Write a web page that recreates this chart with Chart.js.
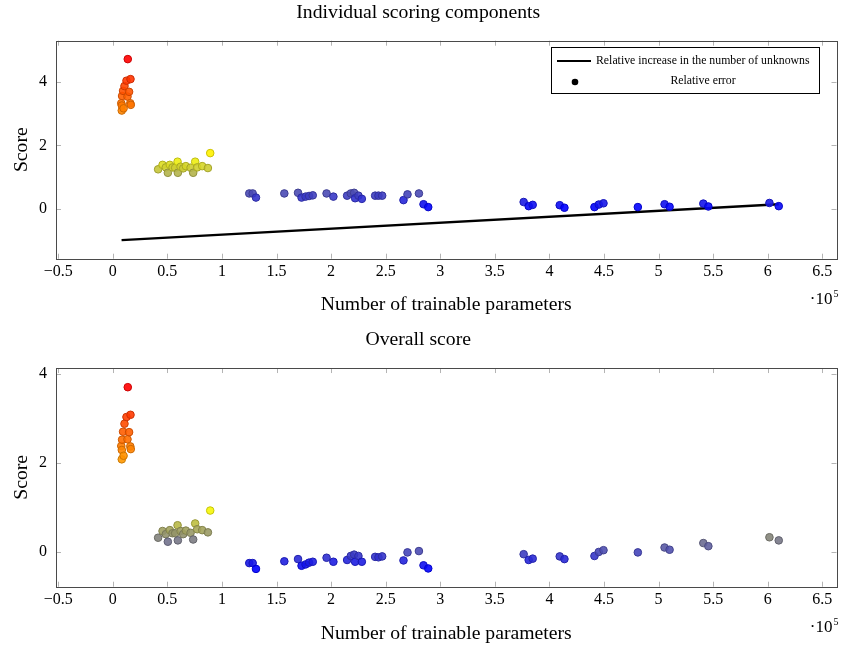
<!DOCTYPE html>
<html>
<head>
<meta charset="utf-8">
<script src="https://cdn.jsdelivr.net/npm/chart.js@4.4.0/dist/chart.umd.min.js"></script>
<style>
  body { margin: 0; background: #fff; }
  .box { position: absolute; left: 0; width: 844px; height: 324px; }
</style>
</head>
<body>
<div class="box" style="top:0"><canvas id="errorChart" width="844" height="324"></canvas></div>
<div class="box" style="top:324px"><canvas id="scoreChart" width="844" height="324"></canvas></div>
<script>
// number of trainable parameters of each network
const params = [7800, 8260, 8300, 8530, 9450, 9910, 10730, 12570, 13490, 13760, 14950, 16060, 16240, 16510,
  41560, 45600, 48620, 50460, 52290, 54770, 57160, 59360, 59630, 62110, 64500, 66970, 71280, 73670, 75500, 77340, 81930, 87160, 89270,
  125050, 128170, 131190, 157160, 169720, 172940, 176610, 179820, 183210, 195870, 202110, 214680, 218070, 221100, 222020, 225050, 228170,
  240370, 243390, 246790, 266330, 270000, 280460, 284680, 288990, 376420, 381010, 384680, 409450, 413760, 441280, 445230, 449540,
  481010, 505500, 510090, 541010, 545600, 601560, 610090];

// relative error (upper plot)
const relError = [3.33, 3.10, 3.26, 3.56, 3.72, 3.17, 3.87, 4.04, 3.54, 4.72, 3.69, 3.33, 4.09, 3.28,
  1.25, 1.39, 1.31, 1.14, 1.39, 1.31, 1.30, 1.49, 1.14, 1.33, 1.28, 1.35, 1.30, 1.14, 1.49, 1.31, 1.35, 1.29, 1.76,
  0.49, 0.49, 0.36, 0.49, 0.51, 0.36, 0.39, 0.41, 0.43, 0.49, 0.39, 0.42, 0.49, 0.51, 0.34, 0.42, 0.32,
  0.42, 0.42, 0.42, 0.28, 0.46, 0.49, 0.15, 0.06, 0.22, 0.09, 0.13, 0.12, 0.04, 0.06, 0.14, 0.18,
  0.06, 0.15, 0.07, 0.17, 0.08, 0.19, 0.09];

// overall score (lower plot)
const overallScore = [2.38, 2.08, 2.29, 2.52, 2.70, 2.16, 2.88, 3.03, 2.53, 3.70, 2.69, 2.37, 3.08, 2.31,
  0.32, 0.47, 0.40, 0.23, 0.49, 0.42, 0.42, 0.60, 0.26, 0.47, 0.40, 0.48, 0.43, 0.28, 0.64, 0.51, 0.49, 0.44, 0.93,
  -0.25, -0.25, -0.38, -0.21, -0.16, -0.31, -0.28, -0.24, -0.22, -0.13, -0.22, -0.18, -0.09, -0.06, -0.22, -0.09, -0.22,
  -0.11, -0.12, -0.10, -0.19, -0.01, 0.02, -0.30, -0.37, -0.05, -0.18, -0.15, -0.10, -0.16, -0.09, 0.00, 0.04,
  -0.01, 0.10, 0.05, 0.20, 0.13, 0.33, 0.26];

// relative increase in the number of unknowns (black line)
const unknownsX = [8070, 610090];
const unknownsY = [-0.98, 0.15];

const xTickValues = [-50000, 0, 50000, 100000, 150000, 200000, 250000, 300000, 350000, 400000, 450000, 500000, 550000, 600000, 650000];
const yTickValues = [0, 2, 4];

const SERIF = '"Liberation Serif", "DejaVu Serif", serif';

// blue -> yellow -> orange -> red, like the pgfplots colormap
const cmap = [[0, 0, 255], [255, 255, 0], [255, 128, 0], [255, 0, 0]];
function mapped(t, shade, alpha) {
  const s = Math.max(0, Math.min(1, t)) * 3;
  const i = Math.min(2, Math.floor(s)), f = s - i;
  const c = cmap[i].map((v, k) => Math.round((v + (cmap[i + 1][k] - v) * f) * shade));
  return 'rgba(' + c[0] + ',' + c[1] + ',' + c[2] + ',' + alpha + ')';
}

function fmtTick(v) {
  return String(Math.round(v * 10) / 10).replace('-', '\u2212');
}

// frame, inward tick marks and the ·10^5 factor
const framePlugin = {
  id: 'frame',
  afterDraw(chart) {
    const ctx = chart.ctx, a = chart.chartArea;
    const xs = chart.scales.x, ys = chart.scales.y;
    ctx.save();
    ctx.strokeStyle = '#b4b4b4';
    ctx.lineWidth = 1;
    ctx.beginPath();
    xs.ticks.forEach(t => {
      const px = Math.round(xs.getPixelForValue(t.value)) + 0.5;
      ctx.moveTo(px, a.bottom); ctx.lineTo(px, a.bottom - 5);
      ctx.moveTo(px, a.top); ctx.lineTo(px, a.top + 5);
    });
    ys.ticks.forEach(t => {
      const py = Math.round(ys.getPixelForValue(t.value)) + 0.5;
      ctx.moveTo(a.left, py); ctx.lineTo(a.left + 5, py);
      ctx.moveTo(a.right, py); ctx.lineTo(a.right - 5, py);
    });
    ctx.stroke();
    ctx.strokeStyle = '#4a4a4a';
    ctx.strokeRect(Math.round(a.left) + 0.5, Math.round(a.top) + 0.5, Math.round(a.right - a.left), Math.round(a.bottom - a.top));
    ctx.fillStyle = '#000';
    ctx.textBaseline = 'alphabetic';
    ctx.textAlign = 'right';
    ctx.font = '10px ' + SERIF;
    ctx.fillText('5', a.right + 2, a.bottom + 38);
    ctx.font = '17px ' + SERIF;
    ctx.fillText('\u00b710', a.right - 4, a.bottom + 45);
    ctx.restore();
  }
};

// legend box inside the upper plot
const legendPlugin = {
  id: 'boxLegend',
  afterDraw(chart, args, opts) {
    if (!opts.show) return;
    const ctx = chart.ctx;
    ctx.save();
    ctx.strokeStyle = '#000';
    ctx.lineWidth = 1;
    ctx.fillStyle = '#fff';
    ctx.fillRect(551, 47, 268, 46);
    ctx.strokeRect(551.5, 47.5, 268, 46);
    ctx.beginPath();
    ctx.lineWidth = 2;
    ctx.moveTo(557, 61); ctx.lineTo(591, 61);
    ctx.stroke();
    ctx.fillStyle = '#000';
    ctx.beginPath();
    ctx.arc(575, 82, 3.3, 0, Math.PI * 2);
    ctx.fill();
    ctx.font = '11.8px ' + SERIF;
    ctx.textBaseline = 'middle';
    ctx.textAlign = 'left';
    ctx.fillText(chart.data.datasets[1].label, 596, 61);
    ctx.textAlign = 'center';
    ctx.fillText(chart.data.datasets[0].label, 703, 81);
    ctx.restore();
  }
};

function makeChart(id, title, scores, yMin, yMax, L) {
  const lo = Math.min(...scores), hi = Math.max(...scores);
  const t = scores.map(v => (v - lo) / (hi - lo));
  const datasets = [{
    label: 'Relative error',
    data: params.map((x, i) => ({ x: x, y: scores[i] })),
    pointRadius: 3.8,
    pointHoverRadius: 3.8,
    backgroundColor: t.map(v => mapped(v, 1, 0.9)),
    borderColor: t.map(v => mapped(v, 0.8, 1)),
    borderWidth: 1,
    order: 1
  }];
  if (L.line) {
    datasets.push({
      type: 'line',
      label: 'Relative increase in the number of unknowns',
      data: unknownsX.map((x, i) => ({ x: x, y: unknownsY[i] })),
      borderColor: '#000',
      borderWidth: 2.4,
      pointRadius: 0,
      order: 2
    });
  }
  return new Chart(document.getElementById(id), {
    type: 'scatter',
    data: { datasets: datasets },
    options: {
      responsive: false,
      animation: false,
      devicePixelRatio: 1,
      layout: { padding: { left: 0, right: 7.5, top: 0, bottom: 0 } },
      plugins: {
        legend: { display: false },
        tooltip: { enabled: false },
        title: {
          display: true, text: title, color: '#000',
          font: { family: SERIF, size: 19.7, weight: 'normal' },
          padding: { top: L.titleTop, bottom: L.titleBottom }
        },
        boxLegend: { show: L.line }
      },
      scales: {
        x: {
          type: 'linear', min: -52000, max: 663000,
          afterBuildTicks: s => { s.ticks = xTickValues.map(v => ({ value: v })); },
          afterFit: s => { s.height = L.xHeight; },
          grid: { display: false, drawTicks: false, tickLength: 0 },
          border: { display: false },
          ticks: {
            color: '#000', padding: 3, maxRotation: 0, autoSkip: false,
            font: { family: SERIF, size: 16 },
            callback: v => fmtTick(v / 100000)
          },
          title: {
            display: true, text: 'Number of trainable parameters', color: '#000',
            font: { family: SERIF, size: 19.7 },
            padding: { top: 0, bottom: L.xTitlePad }
          }
        },
        y: {
          type: 'linear', min: yMin, max: yMax,
          afterBuildTicks: s => { s.ticks = yTickValues.map(v => ({ value: v })); },
          afterFit: s => { s.width = 56; },
          grid: { display: false, drawTicks: false, tickLength: 0 },
          border: { display: false },
          ticks: {
            color: '#000', padding: 9,
            font: { family: SERIF, size: 16 },
            callback: v => fmtTick(v)
          },
          title: {
            display: true, text: 'Score', color: '#000',
            font: { family: SERIF, size: 19.7 },
            padding: { top: 10.2, bottom: 0 }
          }
        }
      }
    },
    plugins: [framePlugin, legendPlugin]
  });
}

makeChart('errorChart', 'Individual scoring components', relError, -1.565, 5.30,
  { line: true, titleTop: 1.2, titleBottom: 15.86, xHeight: 65.3, xTitlePad: 7.2 });
makeChart('scoreChart', 'Overall score', overallScore, -0.78, 4.13,
  { line: false, titleTop: 4.2, titleBottom: 16.2, xHeight: 61.3, xTitlePad: 2.2 });
</script>
</body>
</html>
